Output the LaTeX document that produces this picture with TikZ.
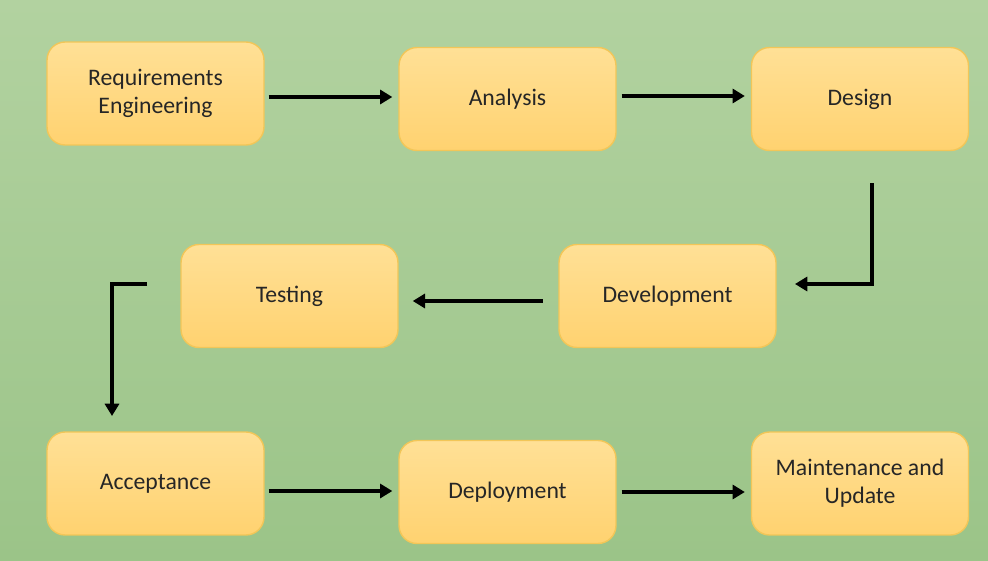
\documentclass[tikz,border=0pt]{standalone}
\usepackage{fontspec}
\setmainfont{Carlito}
\usetikzlibrary{arrows.meta, positioning}

\definecolor{bgtop}{RGB}{178,210,160}
\definecolor{bgbot}{RGB}{155,196,136}
\definecolor{boxtop}{RGB}{255,224,150}
\definecolor{boxbot}{RGB}{255,210,112}
\definecolor{boxline}{RGB}{242,198,88}

\tikzset{
	phase/.style={rectangle, rounded corners=0.36cm, draw=boxline, line width=0.8pt,
		top color=boxtop, bottom color=boxbot, minimum width=4.34cm, minimum height=2.06cm,
		align=center, text=black!85, font=\fontsize{13.5}{16}\selectfont},
	flow/.style={line width=2pt, -{Triangle[length=7pt,width=8pt]}}
}

\begin{document}
\begin{tikzpicture}[x=0.02cm, y=-0.02cm]
			% background
			\shade[top color=bgtop, bottom color=bgbot] (0,0) rectangle (988,561);
			\useasboundingbox (0,0) rectangle (988,561);
			% phases
			\node[phase] (req) at (155.5,93.5) {Requirements\\Engineering};
			\node[phase] (ana) at (507.5,99) {Analysis};
			\node[phase] (des) at (860,99) {Design};
			\node[phase] (dev) at (667.5,296) {Development};
			\node[phase] (tst) at (289.5,296) {Testing};
			\node[phase] (acc) at (155.5,483.5) {Acceptance};
			\node[phase] (dep) at (507.5,492) {Deployment};
			\node[phase] (mnt) at (860,483.5) {Maintenance and\\Update};
			% elbow ends
			\coordinate (des out) at (872,183);
			\coordinate (dev in) at (795,284);
			\coordinate (tst out) at (147,284);
			\coordinate (acc in) at (112,416);
			% connectors
			\draw[flow, shorten <=2.3pt, shorten >=3.4pt] (req.east |- 0,97) -- (ana.west |- 0,97);
			\draw[flow, shorten <=2.8pt, shorten >=3.4pt] (ana.east |- 0,96) -- (des.west |- 0,96);
			\draw[flow] (des out) |- (dev in);
			\draw[flow, shorten <=9pt, shorten >=8pt] (dev.west |- 0,301) -- (tst.east |- 0,301);
			\draw[flow] (tst out) -| (acc in);
			\draw[flow, shorten <=2.3pt, shorten >=3.4pt] (acc.east |- 0,491) -- (dep.west |- 0,491);
			\draw[flow, shorten <=2.8pt, shorten >=3.4pt] (dep.east |- 0,492) -- (mnt.west |- 0,492);
		\end{tikzpicture}
\end{document}
